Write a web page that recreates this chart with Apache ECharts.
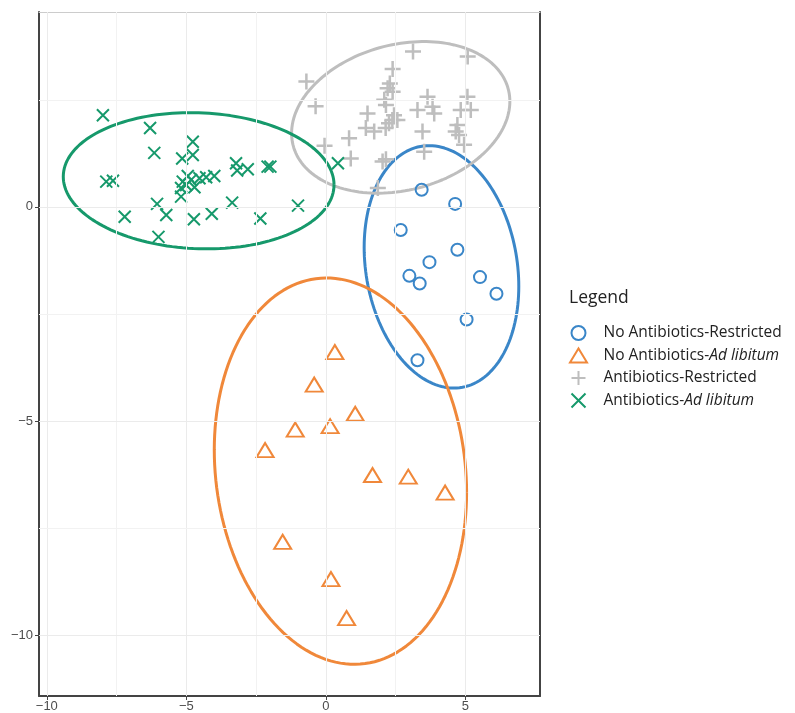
<!DOCTYPE html>
<html>
<head>
<meta charset="utf-8">
<script src="https://cdn.jsdelivr.net/npm/echarts@6/dist/echarts.min.js"></script>
<style>
html,body{margin:0;padding:0;background:#fff;}
#chart{width:795px;height:713px;}
</style>
</head>
<body>
<div id="chart"></div>
<script>
// ---- Data ----
const seriesNames = ['No Antibiotics-Restricted', 'No Antibiotics-Ad libitum', 'Antibiotics-Restricted', 'Antibiotics-Ad libitum'];

const noAbxRestricted = [
  [3.43, 0.40], [4.63, 0.07], [2.68, -0.54], [4.71, -1.00], [3.71, -1.29], [2.99, -1.61],
  [3.36, -1.79], [5.52, -1.64], [6.11, -2.03], [5.04, -2.63], [3.28, -3.58]
];
const noAbxAdLib = [
  [0.32, -3.39], [-0.42, -4.15], [1.05, -4.83], [-1.10, -5.20], [0.15, -5.12], [-2.18, -5.68],
  [1.67, -6.26], [2.95, -6.30], [4.27, -6.67], [-1.55, -7.82], [0.18, -8.69], [0.74, -9.60]
];
const abxRestricted = [
  [-0.70, 2.93], [-0.37, 2.35], [3.12, 3.63], [5.08, 3.51], [2.39, 3.22], [2.29, 2.88],
  [2.21, 2.77], [2.39, 2.69], [2.09, 2.50], [2.15, 2.38], [1.49, 2.18], [2.44, 2.14],
  [2.38, 2.03], [2.26, 1.95], [2.14, 1.84], [1.43, 1.84], [1.73, 1.76], [0.83, 1.60],
  [-0.05, 1.43], [0.89, 1.13], [2.03, 1.06], [2.15, 1.11], [1.86, 0.44], [3.64, 2.57],
  [5.07, 2.57], [3.28, 2.26], [3.82, 2.34], [3.88, 2.18], [4.83, 2.26], [5.19, 2.26],
  [2.56, 2.03], [3.46, 1.76], [4.71, 1.91], [4.65, 1.76], [4.77, 1.68], [4.95, 1.45],
  [3.52, 1.29]
];
const abxAdLib = [
  [-7.99, 2.14], [-6.30, 1.84], [-6.15, 1.26], [-4.77, 1.52], [-4.77, 1.21], [-5.15, 1.13],
  [-7.87, 0.59], [-7.63, 0.61], [-4.95, 0.72], [-5.13, 0.59], [-4.83, 0.63], [-5.01, 0.51],
  [-4.71, 0.46], [-5.19, 0.44], [-5.19, 0.24], [-4.53, 0.67], [-4.29, 0.69], [-4.00, 0.72],
  [-3.22, 1.02], [-3.18, 0.85], [-2.80, 0.88], [-2.09, 0.94], [-1.99, 0.94], [-6.05, 0.07],
  [-5.72, -0.19], [-7.21, -0.23], [-4.73, -0.29], [-4.09, -0.16], [-3.36, 0.10], [-6.00, -0.70],
  [-2.35, -0.27], [-1.00, 0.03], [0.43, 1.02]
];

// Ellipse parameters: [centerX, centerY, halfWidthX, halfHeightY, tilt]
const ellipseNoAbxRestricted = [4.14, -1.40, 2.77, 2.83, -0.16];
const ellipseNoAbxAdLib      = [0.52, -6.17, 4.52, 4.51, -0.11];
const ellipseAbxRestricted   = [2.68, 2.09, 3.91, 1.77, 0.21];
const ellipseAbxAdLib        = [-4.56, 0.61, 4.85, 1.59, -0.06];

const xTicks = [-10, -5, 0, 5];
const yTicks = [-10, -5, 0];
const xGridMinor = [-7.5, -2.5, 2.5];
const yGridMinor = [-7.5, -2.5, 2.5];

// ---- Styling ----
const colors = ['#3A86C8', '#F0883A', '#BEBEBE', '#16996B'];
const xRange = [-10.28, 7.67];
const yRange = [-11.42, 4.55];

function ellipseLine(p) {
  const [cx, cy, hx, hy, r] = p;
  const s = Math.sqrt(1 - r * r);
  const pts = [];
  const n = 160;
  for (let k = 0; k <= n; k++) {
    const t = 2 * Math.PI * k / n;
    pts.push([cx + hx * Math.cos(t), cy + hy * (r * Math.cos(t) + s * Math.sin(t))]);
  }
  return pts;
}

const minus = v => String(v).replace('-', '\u2212');
const labelFont = { color: '#4D4D4D', fontSize: 13, fontFamily: 'Liberation Sans, Arial, sans-serif' };
const legendFont = 'Open Sans, Noto Sans, sans-serif';

const chart = echarts.init(document.getElementById('chart'), null, { renderer: 'canvas' });

const pointData = [noAbxRestricted, noAbxAdLib, abxRestricted, abxAdLib];
const ellipseData = [ellipseNoAbxRestricted, ellipseNoAbxAdLib, ellipseAbxRestricted, ellipseAbxAdLib];
const symbols = ['circle', 'path://M0,14L8.5,0L17,14Z', 'path://M0,-1L0,1M-1,0L1,0', 'path://M-1,-1L1,1M-1,1L1,-1'];
const symbolSizes = [12, [17, 14], 16, 12];
const borderWidths = [2, 2, 2.5, 2];

const series = [];
// grid lines
series.push({
  type: 'line', name: 'grid', data: [], z: 0, silent: true,
  markLine: {
    silent: true, symbol: 'none', animation: false,
    label: { show: false },
    lineStyle: { color: '#EBEBEB', width: 1, type: 'solid' },
    emphasis: { disabled: true },
    data: [
      ...xTicks.map(v => ({ xAxis: v })),
      ...xGridMinor.map(v => ({ xAxis: v, lineStyle: { color: '#F2F2F2', width: 1, type: 'solid' } })),
      ...yTicks.map(v => ({ yAxis: v })),
      ...yGridMinor.map(v => ({ yAxis: v, lineStyle: { color: '#F2F2F2', width: 1, type: 'solid' } }))
    ]
  }
});
ellipseData.forEach((p, i) => {
  series.push({
    type: 'line', name: 'ellipse' + i, data: ellipseLine(p),
    showSymbol: false, symbol: 'none', smooth: false, z: 2, silent: true,
    lineStyle: { color: colors[i], width: 3 }
  });
});
pointData.forEach((d, i) => {
  series.push({
    type: 'scatter', name: seriesNames[i], data: d, z: 3,
    symbol: symbols[i], symbolSize: symbolSizes[i],
    itemStyle: { color: 'rgba(0,0,0,0)', borderColor: colors[i], borderWidth: borderWidths[i], opacity: 1 }
  });
});

chart.setOption({
  animation: false,
  backgroundColor: '#ffffff',
  title: {
    text: 'Legend', left: 564, top: 284,
    textStyle: { fontSize: 17.5, fontWeight: 'normal', color: '#222', fontFamily: legendFont }
  },
  legend: {
    data: seriesNames,
    orient: 'vertical', left: 569, top: 325, padding: 0,
    itemWidth: 40, itemHeight: 14, itemGap: 6.5,
    symbolKeepAspect: true,
    formatter: name => name.replace('Ad libitum', '{i|Ad libitum}'),
    textStyle: {
      fontSize: 15.5, lineHeight: 16, color: '#222', fontFamily: legendFont,
      rich: { i: { fontStyle: 'italic', fontSize: 15.5, lineHeight: 16, color: '#222', fontFamily: legendFont } }
    }
  },
  grid: { left: 39, right: 255, top: 12, bottom: 17, show: false },
  xAxis: [{
    type: 'value', min: xRange[0], max: xRange[1], position: 'bottom',
    axisLine: { show: true, onZero: false, lineStyle: { color: '#444', width: 2 } },
    axisTick: { show: true, length: 4, lineStyle: { color: '#444', width: 1 }, customValues: xTicks },
    axisLabel: Object.assign({ margin: 4, formatter: minus, customValues: xTicks }, labelFont),
    splitLine: { show: false }
  }, {
    type: 'value', min: xRange[0], max: xRange[1], position: 'top',
    axisLine: { show: true, onZero: false, lineStyle: { color: '#CCCCCC', width: 1 } },
    axisTick: { show: false }, axisLabel: { show: false }, splitLine: { show: false }
  }],
  yAxis: [{
    type: 'value', min: yRange[0], max: yRange[1], position: 'left',
    axisLine: { show: true, onZero: false, lineStyle: { color: '#444', width: 2 } },
    axisTick: { show: true, length: 4, lineStyle: { color: '#444', width: 1 }, customValues: yTicks },
    axisLabel: Object.assign({ margin: 6, formatter: minus, customValues: yTicks }, labelFont),
    splitLine: { show: false }
  }, {
    type: 'value', min: yRange[0], max: yRange[1], position: 'right',
    axisLine: { show: true, onZero: false, lineStyle: { color: '#444', width: 2 } },
    axisTick: { show: false }, axisLabel: { show: false }, splitLine: { show: false }
  }],
  series: series
});
</script>
</body>
</html>
